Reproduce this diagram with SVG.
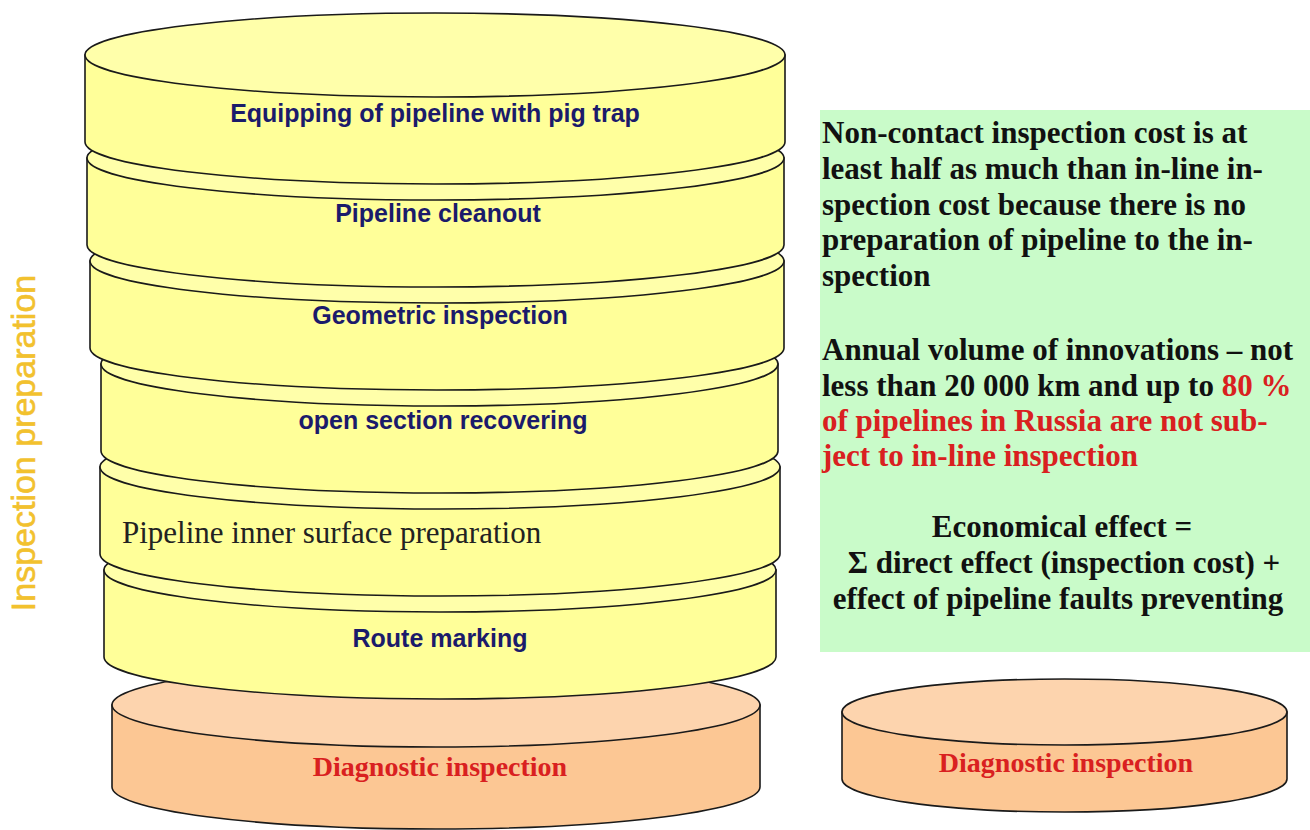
<svg xmlns="http://www.w3.org/2000/svg" width="1310" height="830" viewBox="0 0 1310 830">
<style>
.side{fill:#ffff99;stroke:#1a1a1a;stroke-width:1.6}
.top{fill:#ffffaa;stroke:#1a1a1a;stroke-width:1.6}
.oside{fill:#fcc794;stroke:#1a1a1a;stroke-width:1.6}
.otop{fill:#fdd4ae;stroke:#1a1a1a;stroke-width:1.6}
.lbl{font-family:"Liberation Sans",Arial,sans-serif;font-weight:bold;font-size:25px;fill:#1b1b6b;text-anchor:middle}
.ser{font-family:"Liberation Serif","Times New Roman",serif;font-size:31px;fill:#222}
.red{font-family:"Liberation Serif","Times New Roman",serif;font-weight:bold;font-size:28px;fill:#d92020;text-anchor:middle}
.rt{font-family:"Liberation Serif","Times New Roman",serif;font-weight:bold;font-size:31px;fill:#111}
.rr{fill:#d92020}
</style>
<rect x="0" y="0" width="1310" height="830" fill="#ffffff"/>

<g id="left-diagnostic">
<path class="oside" d="M112,705 V787 A324,42 0 0 0 760,787 V705 Z"/>
<ellipse class="otop" cx="436" cy="705" rx="324" ry="42"/>
<text class="red" x="440" y="776">Diagnostic inspection</text>
</g>

<g id="route-marking">
<path class="side" d="M104,570 V657 A336,42 0 0 0 776,657 V570 Z"/>
<ellipse class="top" cx="440" cy="570" rx="336" ry="42"/>
<text class="lbl" x="440" y="647">Route marking</text>
</g>

<g id="inner-surface">
<path class="side" d="M100,467 V554 A340,42 0 0 0 780,554 V467 Z"/>
<ellipse class="top" cx="440" cy="467" rx="340" ry="42"/>
<text class="ser" x="122" y="543">Pipeline inner surface preparation</text>
</g>

<g id="open-section">
<path class="side" d="M101,364 V451 A338.5,42 0 0 0 778,451 V364 Z"/>
<ellipse class="top" cx="439.5" cy="364" rx="338.5" ry="42"/>
<text class="lbl" x="443" y="429">open section recovering</text>
</g>

<g id="geometric">
<path class="side" d="M90,261 V348 A347,42 0 0 0 784,348 V261 Z"/>
<ellipse class="top" cx="437" cy="261" rx="347" ry="42"/>
<text class="lbl" x="440" y="324">Geometric inspection</text>
</g>

<g id="cleanout">
<path class="side" d="M87,158 V245 A348.5,42 0 0 0 784,245 V158 Z"/>
<ellipse class="top" cx="435.5" cy="158" rx="348.5" ry="42"/>
<text class="lbl" x="438" y="222">Pipeline cleanout</text>
</g>

<g id="pig-trap">
<path class="side" d="M85,55 V142 A350,42 0 0 0 785,142 V55 Z"/>
<ellipse class="top" cx="435" cy="55" rx="350" ry="42"/>
<text class="lbl" x="435" y="122">Equipping of pipeline with pig trap</text>
</g>

<g id="side-label">
<text x="0" y="0" transform="translate(35,443) rotate(-90)" font-family="'Liberation Sans',Arial,sans-serif" font-size="34" fill="#f2c12e" stroke="#f2c12e" stroke-width="0.6" text-anchor="middle">Inspection preparation</text>
</g>

<g id="info-box">
<rect x="820" y="110" width="490" height="542" fill="#c9fbc9"/>
<text class="rt" x="822" y="143">Non-contact inspection cost is at</text>
<text class="rt" x="822" y="179">least half as much than in-line in-</text>
<text class="rt" x="822" y="215">spection cost because there is no</text>
<text class="rt" x="822" y="250">preparation of pipeline to the in-</text>
<text class="rt" x="822" y="286">spection</text>
<text class="rt" x="822" y="360">Annual volume of innovations – not</text>
<text class="rt" x="822" y="396">less than 20 000 km and up to <tspan class="rr">80 %</tspan></text>
<text class="rt rr" x="822" y="431">of pipelines in Russia are not sub-</text>
<text class="rt rr" x="822" y="466">ject to in-line inspection</text>
<text class="rt" x="1062" y="537" text-anchor="middle">Economical effect =</text>
<text class="rt" x="1064" y="573" text-anchor="middle">Σ direct effect (inspection cost) +</text>
<text class="rt" x="1058" y="609" text-anchor="middle">effect of pipeline faults preventing</text>
</g>

<g id="right-diagnostic">
<path class="oside" d="M842,712 V779 A222.5,33 0 0 0 1287,779 V712 Z"/>
<ellipse class="otop" cx="1064.5" cy="712" rx="222.5" ry="33"/>
<text class="red" x="1066" y="772">Diagnostic inspection</text>
</g>
</svg>
